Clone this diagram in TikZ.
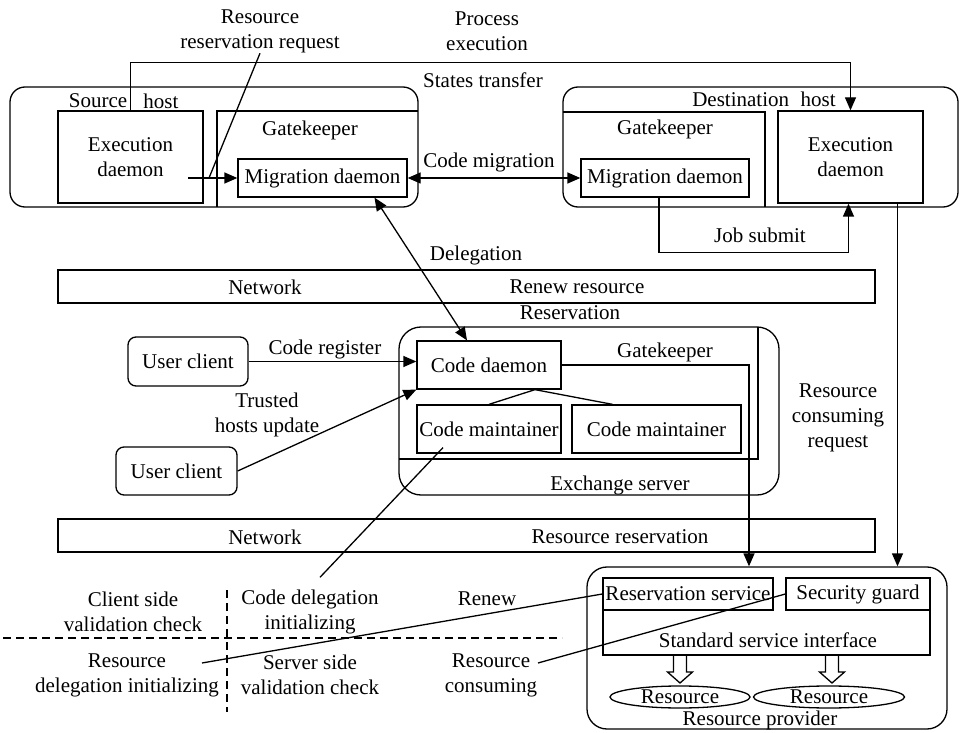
\documentclass[tikz,border=0pt]{standalone}
\usepackage{fontspec}
\setmainfont{Liberation Serif}
\usetikzlibrary{arrows.meta,shapes.geometric}

\begin{document}
\begin{tikzpicture}[
      x=0.5pt, y=-0.5pt,
      line width=0.65pt,
      every node/.style={font=\fontsize{10.5}{12.5}\selectfont, inner sep=0pt, align=center},
      box/.style={draw=black, line width=0.65pt},
      hostbox/.style={box, rounded corners=7.5pt},
      clientbox/.style={box, rounded corners=4pt},
      resellipse/.style={box, ellipse, minimum height=11pt, text height=1.5ex, text depth=0pt},
      arr/.style={-{Triangle[length=6.5pt,width=5.5pt]}},
      dblarr/.style={{Triangle[length=6.5pt,width=5.5pt]}-{Triangle[length=6.5pt,width=5.5pt]}},
      split/.style={dash pattern=on 4pt off 2.5pt}
    ]
    \useasboundingbox (0,0) rectangle (960,733);

    % Source host
    \node[hostbox, minimum width=204pt, minimum height=60pt] (srchost) at (214,147) {};
    \node[box, minimum width=72.5pt, minimum height=46pt] (srcexec) at (130.5,157) {Execution\\daemon};
    \draw (217,207) -- (217,111) -- (418,111);
    \node (srcgate) at (310,130) {Gatekeeper};
    \node[box, minimum width=84.5pt, minimum height=19pt] (srcmig) at (322.5,178) {Migration daemon};
    \node (srclbl) at (98,101) {Source};
    \node (srchostlbl) at (161,101) {host};

    % Destination host
    \node[hostbox, minimum width=197.5pt, minimum height=60pt] (dsthost) at (760.5,147) {};
    \draw (563,112) -- (765,112) -- (765,207);
    \node (dstgate) at (665,129) {Gatekeeper};
    \node[box, minimum width=84pt, minimum height=19pt] (dstmig) at (665,178) {Migration daemon};
    \node[box, minimum width=72.5pt, minimum height=46pt] (dstexec) at (850.5,157) {Execution\\daemon};
    \node (dstlbl) at (764,99) {Destination\hspace{0.3em} host};

    % Labels over the hosts
    \node (rrreq) at (260,31) {Resource\\reservation request};
    \node (procexec) at (487,31) {Process\\execution};
    \node (states) at (483,80) {States transfer};
    \node (codemig) at (489,162) {Code migration};
    \node (jobsub) at (760,235) {Job submit};
    \node (deleg) at (476,255) {Delegation};

    % Upper network
    \node[box, minimum width=408.5pt, minimum height=16.5pt] (net1) at (466.5,286.5) {};
    \node (net1lbl) at (265,287) {Network};
    \node (renew1) at (577,287) {Renew resource};
    \node (renew2) at (570,313) {Reservation};

    % Exchange server
    \node[box, rounded corners=11pt, minimum width=190pt, minimum height=84pt] (exch) at (589,411) {};
    \draw (399,459) -- (758,459) -- (758,327);
    \node (exgate) at (665,352) {Gatekeeper};
    \node[box, minimum width=72pt, minimum height=24pt] (codedaemon) at (489,365) {Code daemon};
    \node[box, minimum width=72pt, minimum height=24pt] (codemaint1) at (489,429) {Code maintainer};
    \node[box, minimum width=84.5pt, minimum height=24pt] (codemaint2) at (656.5,429) {Code maintainer};
    \node (exlbl) at (620,485) {Exchange server};
    \node (rcreq) at (838,418) {Resource\\consuming\\request};

    % User clients
    \node[clientbox, minimum width=60pt, minimum height=24.5pt] (user1) at (188,361.5) {User client};
    \node[clientbox, minimum width=60.5pt, minimum height=24pt] (user2) at (176.5,471) {User client};
    \node (codereg) at (325,349) {Code register};
    \node (trusted) at (267,415) {Trusted\\hosts update};

    % Lower network
    \node[box, minimum width=408.5pt, minimum height=16.5pt] (net2) at (466.5,535.5) {};
    \node (net2lbl) at (265,537) {Network};
    \node (resres) at (620,537) {Resource reservation};

    % Resource provider
    \node[box, rounded corners=10pt, minimum width=180pt, minimum height=81pt] (provider) at (767,648) {};
    \node[box, minimum width=85pt, minimum height=16pt] (ressvc) at (688,594) {Reservation service};
    \node[box, minimum width=72pt, minimum height=16pt] (secguard) at (858,594) {Security guard};
    \draw (603,610) -- (603,655) -- (930,655) -- (930,610);
    \node (stdif) at (768,640) {Standard service interface};
    \foreach \ax in {680,832} {
      \draw (\ax-6.5,655) -- (\ax-6.5,672) -- (\ax-12.5,672) -- (\ax,683)
            -- (\ax+12.5,672) -- (\ax+6.5,672) -- (\ax+6.5,655);
    }
    \node[resellipse, minimum width=70pt] (res1) at (680,697) {Resource};
    \node[resellipse, minimum width=75.5pt] (res2) at (829,697) {Resource};
    \node (provlbl) at (760,720) {Resource provider};

    % Validation quadrants
    \draw[split] (3,638) -- (562,638);
    \draw[split] (227,590) -- (227,712);
    \node (clientchk) at (133,612) {Client side\\validation check};
    \node (cdi) at (310,612) {Code delegation\\initializing};
    \node (rdi) at (127,675) {Resource\\delegation initializing};
    \node (serverchk) at (310,675) {Server side\\validation check};
    \node (renewlbl) at (487,599) {Renew};
    \node (rcons) at (491,675) {Resource\\consuming};

    % Connectors
    \coordinate (exout) at (188,178);
    \coordinate (rrpt) at (209,178);
    \coordinate (rdiend) at (202,663);
    \coordinate (rcend) at (538,663);
    \draw[arr] (exout) -- (srcmig.west);
    \draw (rrreq.south) -- (rrpt);
    \draw[arr] (srcexec.north) -- ++(0,-48) -| (dstexec.north);
    \draw[dblarr] (srcmig.east) -- (dstmig.west);
    \draw[dblarr] ([xshift=26pt]srcmig.south) -- ([xshift=-11pt]codedaemon.north);
    \draw[arr] ([xshift=-3pt]dstmig.south) -- ++(0,55) -| ([xshift=-1pt]dstexec.south);
    \draw[arr] ([xshift=23.5pt]dstexec.south) -- ([xshift=23.5pt]dstexec.south |- provider.north);
    \draw[arr] (codedaemon.east) -| ([xshift=-9pt]provider.north);
    \draw ([xshift=23pt]codedaemon.south) -- (codemaint1.north);
    \draw ([xshift=23pt]codedaemon.south) -- ([xshift=-22pt]codemaint2.north);
    \draw[arr] (user1.east) -- (user1.east -| codedaemon.west);
    \draw[arr] (user2.east) -- (codedaemon.south west);
    \draw ([xshift=-23pt,yshift=3pt]codemaint1.south) -- ([xshift=5pt,yshift=6pt]cdi.north);
    \draw (rdiend) -- (ressvc.west);
    \draw (rcend) -- (secguard.west);
  \end{tikzpicture}
\end{document}
